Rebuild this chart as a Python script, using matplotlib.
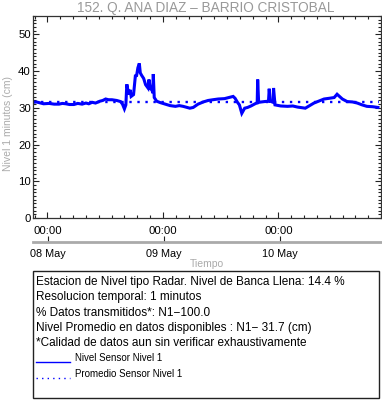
import matplotlib
matplotlib.use("Agg")
import matplotlib.pyplot as plt
import matplotlib.dates as mdates
from matplotlib.ticker import MultipleLocator
import numpy as np
import pandas as pd

plt.rcParams['font.family'] = ['Liberation Sans', 'DejaVu Sans']

title = "152. Q. ANA DIAZ \u2013 BARRIO CRISTOBAL"
ylabel = "Nivel 1 minutos (cm)"
xlabel = "Tiempo"
base_time = "2024-05-08 00:00"
# hours relative to 08 May 00:00, and level (cm)
hours = [-3.0, -2.3, -1.7, -0.8, 0.35, 1.4, 2.4, 3.1, 3.8, 4.6, 5.5, 6.3, 7.2, 8.0, 8.6,
         9.3, 10.0, 10.9, 11.5, 12.1, 12.7, 13.4, 14.4,
         15.2, 15.6, 16.0, 16.3, 16.5, 16.7, 16.9, 17.2, 17.4, 17.9, 18.3, 18.5, 18.8,
         19.1, 19.3, 19.6, 20.0, 20.4, 20.9, 21.1, 21.4, 21.7, 21.9, 22.0, 22.2, 22.7,
         23.5, 24.5, 25.5, 26.6, 27.4, 28.2, 29.6, 30.3, 31.3, 32.4, 33.4, 34.4, 35.5, 36.8,
         37.7, 38.6, 39.0, 39.5, 39.9, 40.4, 41.0, 41.6, 42.3, 43.3, 43.6, 43.7, 43.9,
         45.1, 45.95, 46.1, 46.3, 46.9, 47.0, 47.3, 48.5, 49.9, 51.0, 52.0, 53.6, 55.4, 57.5,
         58.6, 59.6, 60.2, 61.3, 62.3, 63.4, 64.4, 65.4, 66.4, 67.6, 68.7]
level = [31.5, 31.6, 31.4, 31.1, 31.2, 31.0, 31.0, 31.2, 31.1, 30.9, 30.9, 31.2, 31.0, 31.3, 31.1,
         31.5, 31.3, 31.8, 32.0, 32.4, 32.2, 32.2, 32.0,
         31.7, 31.0, 29.7, 30.8, 36.4, 35.0, 33.6, 34.9, 33.1, 33.6, 39.0, 38.5, 40.9,
         42.1, 39.5, 38.8, 38.0, 36.3, 35.4, 37.7, 35.2, 35.0, 34.0, 39.2, 32.8, 31.8,
         31.4, 31.0, 30.6, 30.4, 30.6, 30.4, 29.9, 30.1, 31.0, 31.6, 32.0, 32.2, 32.4, 32.5,
         32.8, 33.1, 32.6, 31.5, 30.8, 28.5, 29.9, 30.1, 30.5, 31.2, 31.3, 37.7, 31.5,
         31.7, 31.8, 35.2, 31.8, 31.5, 35.4, 30.8, 30.5, 30.4, 30.5, 30.2, 29.9, 31.3, 32.4,
         32.6, 32.8, 33.7, 32.4, 31.7, 31.6, 31.3, 30.8, 30.4, 30.3, 30.1]
mean_level = 31.7
xlim_hours = [-3.0, 69.0]
yticks = [0, 10, 20, 30, 40, 50]
info_lines = [
    "Estacion de Nivel tipo Radar. Nivel de Banca Llena: 14.4 %",
    "Resolucion temporal: 1 minutos",
    "% Datos transmitidos*: N1\u2212100.0",
    "Nivel Promedio en datos disponibles : N1\u2212 31.7 (cm)",
    "*Calidad de datos aun sin verificar exhaustivamente",
]
legend_labels = ["Nivel Sensor Nivel 1", "Promedio Sensor Nivel 1"]

W, H = 382, 404
fig = plt.figure(figsize=(W / 100, H / 100), dpi=100)

def fx(px):
    return px / W

def fy(py):
    return 1 - py / H

t0 = pd.Timestamp(base_time)
times = t0 + pd.to_timedelta(np.array(hours), unit="h")
tlim = [t0 + pd.Timedelta(hours=h) for h in xlim_hours]

L, R, T, B = 33, 381, 16, 218
ax = fig.add_axes([fx(L), fy(B), fx(R - L), fy(T) - fy(B)])
ax.plot(times, level, color="blue", lw=2.2, solid_joinstyle="miter")
ax.plot(tlim, [mean_level, mean_level], color="blue", lw=1.7, linestyle=(0, (1, 2.4)))
ax.set_xlim(tlim)
ax.set_ylim(0, 55)
ax.set_yticks(yticks)
ax.yaxis.set_minor_locator(MultipleLocator(1))
ax.xaxis.set_major_locator(mdates.HourLocator(byhour=[0]))
ax.xaxis.set_major_formatter(mdates.DateFormatter("%H:%M"))
# minor x ticks every 1/9 day (2h40m)
minor_x = [t0 + pd.Timedelta(minutes=160 * k) for k in range(-1, 27)]
ax.set_xticks(minor_x, minor=True)
ax.tick_params(axis="both", which="both", direction="in", top=True, right=True,
               colors="#222222", labelcolor="black", labelsize=8.2, width=0.8)
ax.tick_params(axis="both", which="major", length=4.5)
ax.tick_params(axis="both", which="minor", length=2.5)
ax.tick_params(axis="x", which="major", pad=6)
ax.tick_params(axis="y", which="major", pad=1.5)
for s in ax.spines.values():
    s.set_color("#333333")
    s.set_linewidth(0.9)
ax.set_ylabel(ylabel, color="#aaaaaa", fontsize=7.5, labelpad=2)
ax.yaxis.set_label_coords(-0.058, 0.47)

fig.text(fx(206), fy(8), title, ha="center", va="center", color="#999999", fontsize=9.8)

# secondary date axis
ax2 = fig.add_axes([fx(L), fy(242), fx(R - L), 0.0001])
ax2.set_xlim(tlim)
ax2.set_yticks([])
for k in ["top", "left", "right"]:
    ax2.spines[k].set_visible(False)
ax2.spines["bottom"].set_color("#aaaaaa")
ax2.spines["bottom"].set_linewidth(2)
ax2.patch.set_visible(False)
ax2.xaxis.set_major_locator(mdates.DayLocator())
ax2.xaxis.set_major_formatter(mdates.DateFormatter("%d %b"))
ax2.tick_params(axis="x", direction="in", length=4, width=0.8, color="#222222",
                labelsize=7.8, pad=5)
fig.text(fx(207), fy(264), xlabel, ha="center", va="center", color="#aaaaaa", fontsize=7.5)

# info box
box = plt.Rectangle((fx(33), fy(398)), fx(346), fy(271) - fy(398), transform=fig.transFigure,
                    fill=False, edgecolor="#222222", lw=1.0)
fig.add_artist(box)
for i, line in enumerate(info_lines):
    fig.text(fx(36), fy(282 + 15.3 * i), line, ha="left", va="center", fontsize=8.5, color="black")
fig.add_artist(plt.Line2D([fx(36), fx(70)], [fy(362), fy(362)], transform=fig.transFigure,
                          color="blue", lw=1.0))
fig.add_artist(plt.Line2D([fx(36), fx(70)], [fy(377.5), fy(377.5)], transform=fig.transFigure,
                          color="blue", lw=1.0, linestyle=(0, (1, 3))))
fig.text(fx(75), fy(358), legend_labels[0], ha="left", va="center", fontsize=7.0)
fig.text(fx(75), fy(374), legend_labels[1], ha="left", va="center", fontsize=7.0)

fig.savefig("out.png", dpi=100)
